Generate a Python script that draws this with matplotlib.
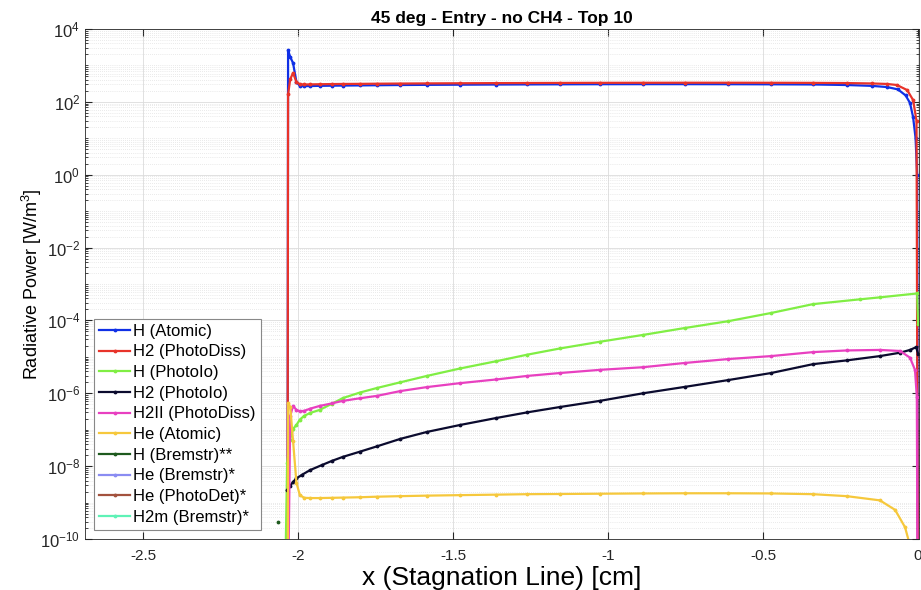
import matplotlib

matplotlib.use("Agg")
import matplotlib.pyplot as plt
from matplotlib.ticker import FixedLocator, LogLocator, NullFormatter

plt.rcParams.update({
    "font.family": ["Liberation Sans", "DejaVu Sans"],
    "axes.unicode_minus": False,
    "mathtext.fontset": "custom",
    "mathtext.rm": "Liberation Sans",
    "mathtext.it": "Liberation Sans",
})

TITLE = "45 deg - Entry - no CH4 - Top 10"

# --- data (x in cm, power in W/m^3) ---
h_atomic_x = [-2.034, -2.032, -2.025, -2.016, -2.005, -1.994, -1.98, -1.96,
              -1.93, -1.89, -1.855, -1.80, -1.745, -1.67, -1.584, -1.477,
              -1.36, -1.26, -1.155, -1.026, -0.887, -0.752, -0.613, -0.474,
              -0.339, -0.23, -0.15, -0.10, -0.065, -0.04, -0.026, -0.016,
              -0.008, -0.003, 0.0]
h_atomic_y = [1e-13, 2600, 1700, 1170, 350, 275, 270, 272, 275, 278, 280,
              283, 286, 290, 293, 296, 299, 301, 303, 305, 306, 306, 305,
              303, 300, 290, 275, 255, 220, 150, 93, 38, 10, 1.0, 1e-13]

h2_pd_x = [-2.034, -2.032, -2.025, -2.016, -2.005, -1.994, -1.98, -1.96,
           -1.93, -1.89, -1.855, -1.80, -1.745, -1.67, -1.584, -1.477,
           -1.36, -1.26, -1.155, -1.026, -0.887, -0.752, -0.613, -0.474,
           -0.339, -0.23, -0.15, -0.10, -0.068, -0.035, -0.016, -0.005, 0.0]
h2_pd_y = [1e-13, 160, 420, 620, 350, 305, 300, 302, 305, 308, 310, 312,
           315, 318, 321, 324, 327, 329, 331, 333, 334, 335, 335, 334, 332,
           328, 320, 310, 290, 210, 112, 30, 1e-13]

h_pi_x = [-2.045, -2.035, -2.026, -2.016, -2.005, -1.994, -1.98, -1.96,
          -1.93, -1.89, -1.855, -1.80, -1.745, -1.67, -1.584, -1.477,
          -1.36, -1.26, -1.155, -1.026, -0.887, -0.752, -0.613, -0.474,
          -0.339, -0.187, -0.123, -0.003, 0.0]
h_pi_y = [1e-13, 1.2e-8, 5.2e-8, 1.05e-7, 1.35e-7, 1.9e-7, 2.4e-7, 2.9e-7,
          3.5e-7, 5.2e-7, 7.4e-7, 1.05e-6, 1.4e-6, 2.0e-6, 3.0e-6, 4.8e-6,
          7.6e-6, 1.15e-5, 1.7e-5, 2.6e-5, 4.0e-5, 6.2e-5, 9.5e-5, 1.6e-4,
          2.8e-4, 3.8e-4, 4.3e-4, 5.5e-4, 8e-5]

h2_pi_x = [-2.035, -2.025, -2.016, -2.005, -1.987, -1.961, -1.923, -1.89,
           -1.855, -1.80, -1.745, -1.67, -1.584, -1.477, -1.36, -1.26,
           -1.155, -1.026, -0.887, -0.752, -0.613, -0.474, -0.339, -0.23,
           -0.123, -0.058, -0.026, -0.006, 0.0]
h2_pi_y = [2.2e-9, 2.9e-9, 3.7e-9, 4.6e-9, 5.8e-9, 7.8e-9, 1.07e-8,
           1.4e-8, 1.8e-8, 2.5e-8, 3.5e-8, 5.6e-8, 8.7e-8, 1.35e-7, 2.1e-7,
           3.0e-7, 4.2e-7, 6.2e-7, 1.0e-6, 1.5e-6, 2.3e-6, 3.6e-6, 6.3e-6,
           8.0e-6, 1.05e-5, 1.3e-5, 1.55e-5, 1.85e-5, 1.2e-5]

h2ii_pd_x = [-2.034, -2.025, -2.016, -2.005, -1.994, -1.98, -1.96, -1.93,
             -1.89, -1.855, -1.80, -1.745, -1.67, -1.584, -1.477, -1.36,
             -1.26, -1.155, -1.026, -0.887, -0.752, -0.613, -0.474, -0.339,
             -0.23, -0.123, -0.058, -0.026, -0.010, -0.004, -0.001]
h2ii_pd_y = [1e-13, 2.4e-7, 4.5e-7, 3.5e-7, 3.2e-7, 3.3e-7, 3.8e-7,
             4.5e-7, 5.3e-7, 6.2e-7, 7.3e-7, 8.5e-7, 1.15e-6, 1.48e-6,
             1.9e-6, 2.4e-6, 3.0e-6, 3.6e-6, 4.4e-6, 5.2e-6, 6.8e-6, 8.7e-6,
             1.05e-5, 1.35e-5, 1.5e-5, 1.55e-5, 1.45e-5, 9.5e-6, 4.4e-6,
             8e-7, 1e-13]

he_atomic_x = [-2.033, -2.032, -2.025, -2.016, -2.005, -1.994, -1.98,
               -1.96, -1.93, -1.89, -1.855, -1.80, -1.745, -1.67, -1.584,
               -1.477, -1.36, -1.26, -1.155, -1.026, -0.887, -0.752, -0.613,
               -0.474, -0.339, -0.23, -0.123, -0.074, -0.042, -0.015]
he_atomic_y = [1e-13, 5.4e-7, 4.2e-7, 5.0e-8, 3.5e-9, 1.6e-9, 1.35e-9,
               1.33e-9, 1.33e-9, 1.35e-9, 1.37e-9, 1.4e-9, 1.45e-9, 1.5e-9,
               1.55e-9, 1.6e-9, 1.65e-9, 1.7e-9, 1.72e-9, 1.75e-9, 1.78e-9,
               1.8e-9, 1.8e-9, 1.78e-9, 1.7e-9, 1.5e-9, 1.15e-9, 6.3e-10,
               2.1e-10, 3e-11]

h_brem_x = [-2.065]
h_brem_y = [2.9e-10]

# the three starred series stay below the plotted range
he_brem_x = [-2.03, 0.0]
he_brem_y = [1e-13, 1e-13]
he_pdet_x = [-2.03, 0.0]
he_pdet_y = [1e-13, 1e-13]
h2m_brem_x = [-2.03, 0.0]
h2m_brem_y = [1e-13, 1e-13]

series = [
    ("H (Atomic)", h_atomic_x, h_atomic_y, "#1030E6"),
    ("H2 (PhotoDiss)", h2_pd_x, h2_pd_y, "#E8332A"),
    ("H (PhotoIo)", h_pi_x, h_pi_y, "#80EE44"),
    ("H2 (PhotoIo)", h2_pi_x, h2_pi_y, "#0B0B2E"),
    ("H2II (PhotoDiss)", h2ii_pd_x, h2ii_pd_y, "#E840C0"),
    ("He (Atomic)", he_atomic_x, he_atomic_y, "#F6C83C"),
    ("H (Bremstr)**", h_brem_x, h_brem_y, "#1E5A1E"),
    ("He (Bremstr)*", he_brem_x, he_brem_y, "#8A8CF2"),
    ("He (PhotoDet)*", he_pdet_x, he_pdet_y, "#A3523E"),
    ("H2m (Bremstr)*", h2m_brem_x, h2m_brem_y, "#5EF2B6"),
]

fig = plt.figure(figsize=(9.21, 5.90), dpi=100)
ax = fig.add_axes([85 / 921, 1 - 539 / 590, 834 / 921, 510 / 590])

for label, xs, ys, color in series:
    ax.plot(xs, ys, color=color, linewidth=1.6, marker=".",
            markersize=3.5, label=label)

ax.set_yscale("log")
ax.set_ylim(1e-10, 1e4)
ax.set_xlim(-2.687, 0.003)
ax.yaxis.set_major_locator(FixedLocator([10.0 ** k for k in range(-10, 5, 2)]))
ax.yaxis.set_minor_locator(LogLocator(base=10, subs=range(1, 10), numticks=40))
ax.yaxis.set_minor_formatter(NullFormatter())
ax.set_xticks([-2.5, -2, -1.5, -1, -0.5, 0])
ax.set_xticklabels(["-2.5", "-2", "-1.5", "-1", "-0.5", "0"])

ax.grid(True, which="major", color="#DCDCDC", linewidth=0.6)
ax.grid(True, which="minor", axis="y", color="#D6D6D6", linewidth=0.5,
        linestyle=(0, (1, 2)))
ax.set_axisbelow(True)
ax.tick_params(which="both", direction="in", top=True, right=True,
               labelsize=11, colors="#262626")
ax.tick_params(axis="y", labelsize=12)
ax.tick_params(axis="x", pad=7)
ax.tick_params(which="major", length=5)
ax.tick_params(which="minor", length=2.5)
for sp in ax.spines.values():
    sp.set_color("#262626")
    sp.set_linewidth(0.6)

ax.set_title(TITLE, fontsize=12.5, fontweight="bold", pad=4)
ax.set_xlabel("x (Stagnation Line) [cm]", fontsize=19, labelpad=2)
ax.set_ylabel("Radiative Power [W/m$^3$]", fontsize=13, labelpad=-3)

leg = ax.legend(loc="lower left", bbox_to_anchor=(0.011, 0.018),
                borderaxespad=0, fontsize=12, handlelength=1.85,
                handletextpad=0.2, labelspacing=0.34, fancybox=False,
                framealpha=1, edgecolor="#888888", borderpad=0.3)
leg.get_frame().set_linewidth(0.8)

fig.savefig("out.png", dpi=100)
